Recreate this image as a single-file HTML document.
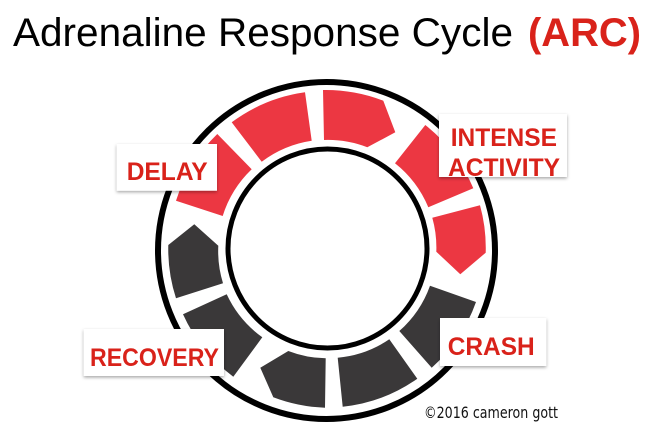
<!DOCTYPE html>
<html>
<head>
<meta charset="utf-8">
<style>
html,body{margin:0;padding:0;background:#fff;width:655px;height:444px;overflow:hidden}
svg{display:block}
text{font-family:"Liberation Sans",Arial,sans-serif}
.l{font-weight:bold;font-size:25px;fill:#d9221a}
</style>
</head>
<body>
<svg width="655" height="444" viewBox="0 0 655 444" xmlns="http://www.w3.org/2000/svg">
<defs>
<filter id="s" x="-10%" y="-10%" width="120%" height="125%">
<feDropShadow dx="0" dy="1.5" stdDeviation="1.5" flood-color="#000" flood-opacity="0.35"/>
</filter>
</defs>
<rect width="655" height="444" fill="#fff"/>
<text x="13" y="46" font-size="40" fill="#000" textLength="500" lengthAdjust="spacingAndGlyphs">Adrenaline Response Cycle</text>
<text x="528" y="46" font-size="40" font-weight="bold" fill="#d9221a" textLength="113" lengthAdjust="spacingAndGlyphs">(ARC)</text>

<circle cx="326.5" cy="250.5" r="168.5" fill="none" stroke="#000" stroke-width="6"/>
<circle cx="327.5" cy="248.5" r="99.5" fill="none" stroke="#000" stroke-width="5"/>

<g fill="#ec3742">
<path d="M323 90 A160 160 0 0 1 383.3 100.7 L395.3 132.3 L367.3 147.3 A110 110 0 0 0 324 140Z"/>
<path d="M231.7 122.3 A160 160 0 0 1 305 92.3 L311.7 140.7 A110 110 0 0 0 261.7 161.7Z"/>
<path d="M217.3 134 L251.7 169.3 A110 110 0 0 0 222.7 216 L176 200.7 A160 160 0 0 1 217.3 134Z"/>
<path d="M425.3 125 A160 160 0 0 1 473.3 188.3 L428.3 207.3 A110 110 0 0 0 395 163.3Z"/>
<path d="M432.3 217.7 L480 205.3 A160 160 0 0 1 485.7 252.7 L460.3 274.3 L436.3 251.7 A110 110 0 0 0 432.3 217.7Z"/>
</g>
<g fill="#3a3839">
<path d="M194.3 224.3 L218.3 245.7 A110 110 0 0 0 223 283.3 L176 298.3 A160 160 0 0 1 168.3 245Z"/>
<path d="M183 314.3 L226.7 294.3 A110 110 0 0 0 262.3 337.3 L233.3 376.7 A160 160 0 0 1 183 314.3Z"/>
<path d="M260.3 367.7 L288.3 351 A109 109 0 0 0 325.7 358.3 L325 407.7 A158 158 0 0 1 273.3 397.3Z"/>
<path d="M337.7 357.7 A109 109 0 0 0 389.3 339.3 L417.3 378.7 A158 158 0 0 1 342.7 406.7Z"/>
<path d="M399.3 331 A109 109 0 0 0 430 285.7 L476 302 A158 158 0 0 1 431.7 367.7Z"/>
</g>

<rect x="116.7" y="144" width="100.3" height="46.7" fill="#fff" filter="url(#s)"/>
<text class="l" x="126.7" y="180" textLength="81" lengthAdjust="spacingAndGlyphs">DELAY</text>

<rect x="439" y="114" width="128" height="63" fill="#fff" filter="url(#s)"/>
<text class="l" x="450.7" y="146" textLength="106.3" lengthAdjust="spacingAndGlyphs">INTENSE</text>
<text class="l" x="448" y="176" textLength="112" lengthAdjust="spacingAndGlyphs">ACTIVITY</text>

<rect x="83.7" y="329" width="140.3" height="47" fill="#fff" filter="url(#s)"/>
<text class="l" x="90" y="366" textLength="129" lengthAdjust="spacingAndGlyphs">RECOVERY</text>

<rect x="440" y="318" width="106.3" height="48" fill="#fff" filter="url(#s)"/>
<text class="l" x="447.7" y="355" textLength="87" lengthAdjust="spacingAndGlyphs">CRASH</text>

<text x="424" y="418" font-size="16" fill="#111" style="font-family:'DejaVu Sans',sans-serif" textLength="134" lengthAdjust="spacingAndGlyphs">©2016 cameron gott</text>
</svg>
</body>
</html>
